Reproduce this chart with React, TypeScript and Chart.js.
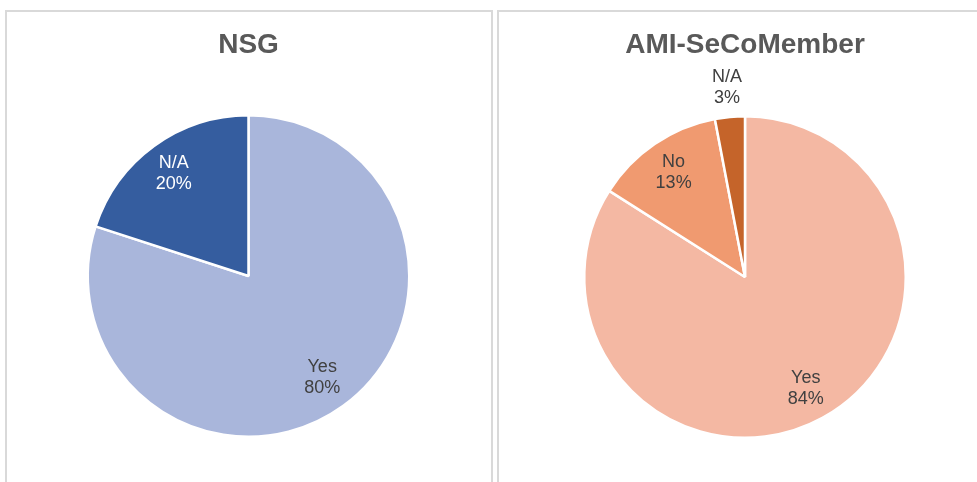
import React, { useEffect, useRef } from "react";
import { Chart, registerables } from "chart.js";

Chart.register(...registerables);

// ---- Data ----
const nsgTitle = "NSG";
const nsgLabels = ["Yes", "N/A"];
const nsgValues = [80, 20];
const nsgColors = ["#A9B6DB", "#355D9F"];
const nsgTextColors = ["#404040", "#FFFFFF"];
const nsgLabelRadius = [0.78, 0.79];

const amiTitle = "AMI-SeCoMember";
const amiLabels = ["Yes", "No", "N/A"];
const amiValues = [84, 13, 3];
const amiColors = ["#F4B8A3", "#F09A70", "#C5642A"];
const amiTextColors = ["#404040", "#404040", "#404040"];
const amiLabelRadius = [0.785, 0.79, 1.19];

const FONT = "'Liberation Sans', Arial, sans-serif";

const labelPlugin = {
  id: "sliceLabels",
  afterDatasetsDraw(chart: any) {
    const opts = chart.options.plugins.sliceLabels;
    const meta = chart.getDatasetMeta(0);
    const ds = chart.data.datasets[0];
    const total = ds.data.reduce((a: number, b: number) => a + b, 0);
    const ctx = chart.ctx;
    ctx.save();
    ctx.font = `18px ${FONT}`;
    ctx.textAlign = "center";
    ctx.textBaseline = "middle";
    meta.data.forEach((arc: any, i: number) => {
      const p = arc.getProps(["x", "y", "startAngle", "endAngle", "outerRadius"], true);
      const mid = (p.startAngle + p.endAngle) / 2;
      const r = p.outerRadius * opts.radius[i];
      const cx = p.x + Math.cos(mid) * r;
      const cy = p.y + Math.sin(mid) * r;
      const pct = Math.round((ds.data[i] / total) * 100) + "%";
      ctx.fillStyle = opts.colors[i];
      ctx.fillText(chart.data.labels[i], cx, cy - 10);
      ctx.fillText(pct, cx, cy + 11);
    });
    ctx.restore();
  },
};

type PieProps = {
  title: string;
  labels: string[];
  values: number[];
  colors: string[];
  textColors: string[];
  labelRadius: number[];
  left: number;
  top: number;
  width: number;
  height: number;
  padding: { left: number; right: number; top: number; bottom: number };
};

function PieBox(props: PieProps) {
  const ref = useRef<HTMLCanvasElement | null>(null);
  useEffect(() => {
    if (!ref.current) return;
    const chart = new Chart(ref.current, {
      type: "pie",
      data: {
        labels: props.labels,
        datasets: [
          {
            data: props.values,
            backgroundColor: props.colors,
            borderColor: "#FFFFFF",
            borderWidth: 2.5,
          },
        ],
      },
      options: {
        responsive: false,
        animation: false,
        layout: {
          padding: {
            left: props.padding.left,
            right: props.padding.right,
            top: 0,
            bottom: props.padding.bottom,
          },
        },
        plugins: {
          legend: { display: false },
          tooltip: { enabled: false },
          title: {
            display: true,
            text: props.title,
            color: "#595959",
            font: { family: FONT, size: 28, weight: "bold" },
            padding: { top: 16, bottom: props.padding.top - 16 - 33.6 },
          },
          sliceLabels: { colors: props.textColors, radius: props.labelRadius },
        } as any,
      },
      plugins: [labelPlugin],
    });
    return () => chart.destroy();
  }, []);
  return (
    <canvas
      ref={ref}
      width={props.width}
      height={props.height}
      style={{
        position: "absolute",
        left: props.left,
        top: props.top,
        width: props.width,
        height: props.height,
      }}
    />
  );
}

export default function App() {
  return (
    <div
      style={{
        position: "fixed",
        left: 0,
        top: 0,
        width: 977,
        height: 482,
        overflow: "hidden",
        background: "#FFFFFF",
      }}
    >
      <div
        style={{
          position: "absolute",
          left: 5,
          top: 10,
          width: 484,
          height: 500,
          border: "2px solid #D9D9D9",
        }}
      />
      <div
        style={{
          position: "absolute",
          left: 497,
          top: 10,
          width: 500,
          height: 500,
          border: "2px solid #D9D9D9",
        }}
      />
      <PieBox
        title={nsgTitle}
        labels={nsgLabels}
        values={nsgValues}
        colors={nsgColors}
        textColors={nsgTextColors}
        labelRadius={nsgLabelRadius}
        left={7}
        top={12}
        width={484}
        height={470}
        padding={{ left: 79, right: 80, top: 102, bottom: 44 }}
      />
      <PieBox
        title={amiTitle}
        labels={amiLabels}
        values={amiValues}
        colors={amiColors}
        textColors={amiTextColors}
        labelRadius={amiLabelRadius}
        left={500}
        top={12}
        width={477}
        height={470}
        padding={{ left: 83, right: 70, top: 103, bottom: 43 }}
      />
    </div>
  );
}
